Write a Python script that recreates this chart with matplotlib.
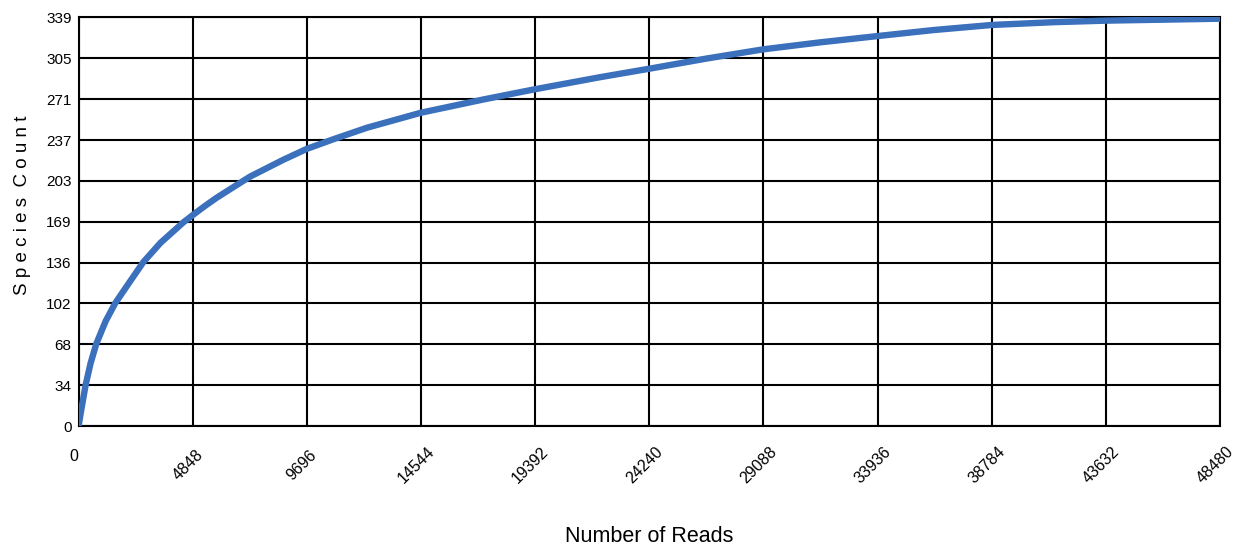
import numpy as np
import matplotlib
matplotlib.use("Agg")
import matplotlib.pyplot as plt
from matplotlib.transforms import ScaledTranslation

plt.rcParams['font.family'] = ['Liberation Sans', 'DejaVu Sans']

# Rarefaction curve: sampled reads vs. observed species
reads = [0, 130, 300, 510, 750, 1150, 1560, 2100, 2750, 3480, 4450, 4848,
         5361, 5871, 6960, 7287, 8703, 9696, 10827, 12245, 14544, 17200,
         19392, 22158, 24240, 26690, 29088, 31505, 33936, 36320, 38784,
         41400, 43632, 48480]
species = [0, 15, 34, 52, 68, 87, 102, 117.5, 136, 152, 169, 175,
           182.5, 189.5, 203, 207, 221, 230, 238, 247.5, 260, 271,
           279.5, 289.5, 296.5, 305, 312.6, 318.4, 323.6, 328.6, 332.8,
           335.1, 336.4, 338]

x_ticks = [0, 4848, 9696, 14544, 19392, 24240, 29088, 33936, 38784, 43632, 48480]
x_labels = ['0', '4848', '9696', '14544', '19392', '24240', '29088', '33936',
            '38784', '43632', '48480']
y_max = 339
y_labels = ['0', '34', '68', '102', '136', '169', '203', '237', '271', '305', '339']

fig = plt.figure(figsize=(12.35, 5.45), dpi=100)
ax = fig.add_axes([0.0636, 0.2183, 0.9243, 0.7496])

ax.plot(reads, species, color='#3a70bc', lw=4.6, solid_joinstyle='round',
        solid_capstyle='butt', zorder=3)

ax.set_xlim(0, x_ticks[-1])
ax.set_ylim(0, y_max)

ax.set_xticks(x_ticks)
ax.set_xticklabels(x_labels, fontsize=11.5)
ax.set_yticks(np.linspace(0, y_max, len(y_labels)))
ax.set_yticklabels(y_labels, fontsize=11)

ax.grid(True, color='black', lw=1.5, zorder=1)
for s in ax.spines.values():
    s.set_color('black')
    s.set_linewidth(1.5)

ax.tick_params(axis='both', length=0)
ax.tick_params(axis='y', pad=5)
ax.tick_params(axis='x', pad=28)

shift = ScaledTranslation(-5 / 100, 0, fig.dpi_scale_trans)
for i, lab in enumerate(ax.get_xticklabels()):
    lab.set_rotation(0 if i == 0 else 45)
    lab.set_rotation_mode('anchor')
    lab.set_ha('center')
    lab.set_va('center')
    lab.set_transform(lab.get_transform() + shift)
ax.get_xticklabels()[0].set_transform(
    ax.get_xticklabels()[0].get_transform()
    + ScaledTranslation(0, 8 / 100, fig.dpi_scale_trans))

ax.set_xlabel('Number of Reads', fontsize=15.5)
ax.xaxis.set_label_coords(0.5, -0.245)
ax.set_ylabel('S p e c i e s  C o u n t', fontsize=13.5, va='center')
ax.yaxis.set_label_coords(-0.0495, 0.541)

fig.savefig('out.png', dpi=100)
